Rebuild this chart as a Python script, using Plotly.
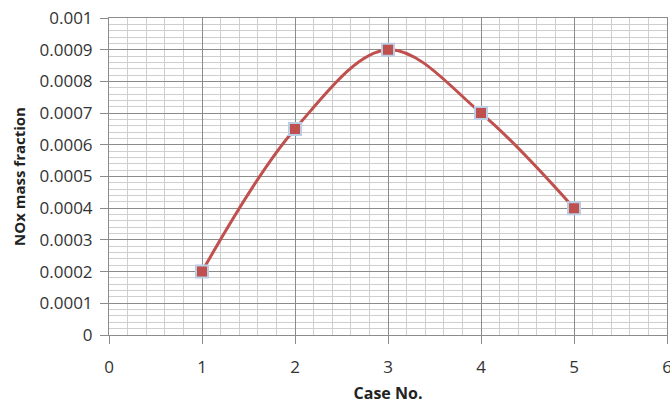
import plotly.graph_objects as go

case_no = [1, 2, 3, 4, 5]
nox_fraction = [0.0002, 0.00065, 0.0009, 0.0007, 0.0004]
x_ticks = [0, 1, 2, 3, 4, 5, 6]
y_ticks = [0, 0.0001, 0.0002, 0.0003, 0.0004, 0.0005, 0.0006, 0.0007, 0.0008, 0.0009, 0.001]
y_labels = ["0", "0.0001", "0.0002", "0.0003", "0.0004", "0.0005", "0.0006",
            "0.0007", "0.0008", "0.0009", "0.001"]

fig = go.Figure()
fig.add_trace(go.Scatter(
    x=case_no, y=nox_fraction, mode="lines+markers",
    line=dict(color="#C0504D", width=3, shape="spline", smoothing=1.0),
    marker=dict(symbol="square", size=12, color="#C0504D",
                line=dict(color="#B9CDE5", width=2)),
    showlegend=False,
))

font_family = "Open Sans, Liberation Sans, sans-serif"
fig.update_layout(
    width=670, height=404,
    margin=dict(l=109, r=3, t=18, b=69),
    paper_bgcolor="white", plot_bgcolor="white",
    font=dict(family=font_family, color="#333", size=17),
)
fig.update_xaxes(
    range=[0, 6], tickvals=x_ticks, ticktext=[str(v) for v in x_ticks],
    showgrid=True, gridcolor="#8c8c8c", gridwidth=1,
    minor=dict(dtick=0.2, showgrid=True, gridcolor="#cfcfcf", gridwidth=1),
    showline=True, linecolor="#8c8c8c", linewidth=1, mirror=True,
    ticks="outside", ticklen=8, tickcolor="#8c8c8c",
    ticklabeloverflow="allow", ticklabelstandoff=9, automargin=False,
    zeroline=False,
    title=dict(text="<b>Case No.</b>", font=dict(size=16, color="#222"), standoff=12),
)
fig.update_yaxes(
    range=[0, 0.001], tickvals=y_ticks, ticktext=y_labels,
    showgrid=True, gridcolor="#8c8c8c", gridwidth=1,
    minor=dict(dtick=0.00002, showgrid=True, gridcolor="#cfcfcf", gridwidth=1),
    showline=True, linecolor="#8c8c8c", linewidth=1, mirror=True,
    ticks="outside", ticklen=8, tickcolor="#8c8c8c",
    ticklabelstandoff=4, automargin=False,
    zeroline=False,
    title=dict(text="<b>NOx mass fraction</b>", font=dict(size=15, color="#222"), standoff=10),
)

fig.write_html("out.html")
